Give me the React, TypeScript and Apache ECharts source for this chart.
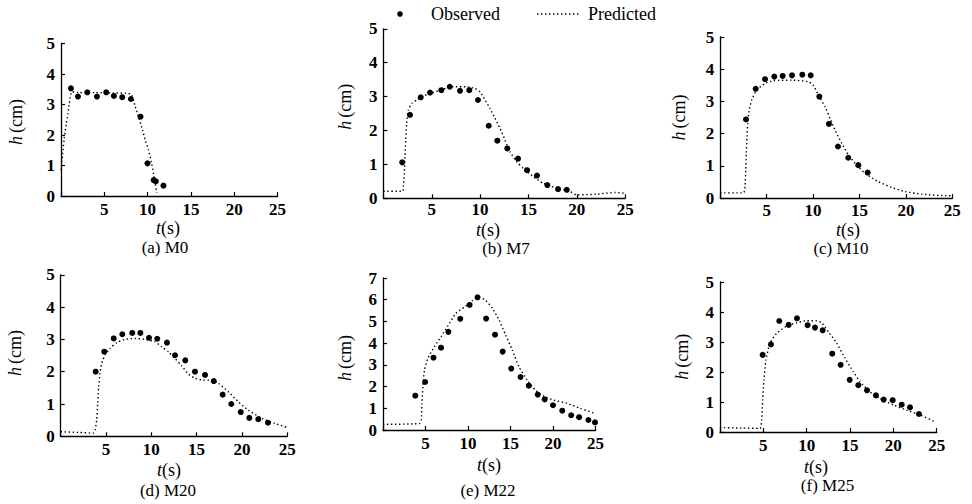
import React, { useEffect, useRef } from "react";
import * as echarts from "echarts";

// ---------- data (t in s, h in cm) ----------
const m0Observed = [[1.15,3.53],[1.96,3.26],[3.04,3.40],[4.15,3.26],[5.22,3.40],[6.11,3.28],[7.07,3.24],[8.07,3.18],[9.18,2.6],[9.99,1.07],[10.7,0.52],[10.95,0.48],[11.83,0.34]];
const m0Predicted = [[0,0.85],[0.19,1.4],[0.38,1.89],[0.61,2.38],[0.81,2.71],[0.96,3.04],[1.27,3.42],[2,3.39],[4,3.39],[6,3.38],[7.5,3.37],[8.1,3.33],[8.57,2.93],[8.95,2.6],[9.42,2.16],[9.72,1.84],[10.1,1.51],[10.5,1.02],[10.8,0.52],[11.05,0.1]];

const m7Observed = [[1.95,1.06],[2.75,2.46],[3.86,2.98],[4.82,3.12],[5.99,3.19],[6.86,3.29],[7.92,3.17],[8.88,3.19],[9.78,2.9],[10.89,2.14],[11.78,1.7],[12.81,1.47],[13.92,1.17],[14.85,0.83],[15.88,0.67],[16.95,0.39],[18.06,0.27],[18.96,0.25]];
const m7Predicted = [[0,0.21],[2.0,0.21],[2.06,0.34],[2.16,0.74],[2.23,1.23],[2.31,1.72],[2.41,2.21],[2.58,2.6],[2.93,2.8],[3.44,2.9],[4.13,3.02],[5.16,3.12],[6.19,3.22],[7.23,3.29],[8.61,3.29],[9.47,3.24],[9.99,3.14],[10.51,2.9],[11.02,2.65],[11.54,2.36],[12.06,2.06],[12.57,1.72],[13.09,1.37],[13.78,1.08],[14.47,0.88],[15.5,0.64],[16.54,0.44],[17.92,0.3],[19.3,0.2],[20,0.1],[22,0.12],[24,0.17],[25,0.15]];

const m10Observed = [[2.77,2.44],[3.81,3.39],[4.82,3.69],[5.82,3.77],[6.72,3.79],[7.73,3.81],[8.84,3.83],[9.74,3.81],[10.67,3.15],[11.71,2.30],[12.68,1.6],[13.79,1.25],[14.87,1.02],[15.88,0.79]];
const m10Predicted = [[0,0.16],[2.5,0.16],[2.66,0.35],[2.74,0.87],[2.8,1.39],[2.88,1.9],[2.95,2.32],[3.09,2.68],[3.38,3.04],[3.92,3.35],[4.82,3.56],[5.71,3.64],[7.73,3.66],[9.48,3.61],[10.0,3.51],[10.56,3.2],[11.28,2.84],[11.82,2.47],[12.36,2.11],[13.08,1.70],[13.79,1.34],[14.52,1.08],[15.59,0.77],[17.0,0.51],[18.47,0.33],[19.9,0.2],[21.7,0.12],[24.6,0.07],[25,0.07]];

const m20Observed = [[3.86,2.0],[4.81,2.62],[5.85,3.03],[6.8,3.16],[7.9,3.2],[8.79,3.2],[9.75,3.05],[10.66,3.02],[11.73,2.9],[12.62,2.51],[13.75,2.35],[14.82,2.0],[15.93,1.9],[16.89,1.71],[17.88,1.29],[18.83,1.0],[19.87,0.75],[20.82,0.57],[21.81,0.53],[22.88,0.42]];
const m20Predicted = [[0,0.14],[2,0.12],[3.6,0.1],[3.8,0.2],[3.97,0.5],[4.08,1.02],[4.19,1.53],[4.34,1.95],[4.53,2.26],[4.89,2.52],[5.44,2.72],[6.18,2.9],[7.1,3.0],[8.2,3.03],[9.3,3.0],[10.4,2.93],[11.15,2.77],[11.88,2.62],[12.62,2.41],[13.36,2.18],[14.08,1.93],[14.82,1.8],[15.74,1.74],[16.67,1.74],[17.4,1.64],[18.5,1.38],[19.6,1.07],[20.7,0.81],[22.2,0.56],[23.65,0.4],[24.9,0.28]];

const m22Observed = [[3.8,1.58],[4.96,2.21],[5.94,3.33],[6.83,3.79],[7.69,4.52],[9.09,5.12],[10.19,5.76],[11.12,6.11],[12.13,5.13],[13.18,4.39],[14.08,3.61],[15.09,2.83],[16.18,2.44],[17.15,2.04],[18.2,1.63],[19.02,1.41],[20.0,1.14],[21.09,0.89],[22.14,0.68],[23.07,0.59],[24.16,0.46],[24.94,0.35]];
const m22Predicted = [[0,0.26],[4.3,0.3],[4.5,0.46],[4.58,1.23],[4.7,1.99],[4.88,2.76],[5.28,3.3],[6.05,3.84],[6.83,4.3],[7.62,4.79],[8.59,5.38],[9.56,5.65],[10.53,5.96],[11.3,6.11],[12.09,5.96],[12.87,5.61],[13.64,5.07],[14.42,4.38],[15.2,3.69],[15.98,2.92],[16.96,2.3],[17.93,1.84],[18.9,1.56],[20.07,1.38],[21.6,1.23],[23.2,1.0],[25,0.75]];

const m25Observed = [[4.92,2.57],[5.88,2.92],[6.84,3.7],[7.92,3.57],[8.88,3.79],[10.11,3.56],[10.96,3.48],[11.84,3.39],[12.95,2.61],[13.92,2.24],[14.96,1.74],[15.96,1.56],[16.96,1.39],[17.99,1.22],[18.88,1.08],[19.92,1.06],[20.96,0.91],[21.92,0.82],[22.95,0.6]];
const m25Predicted = [[0,0.15],[2.5,0.13],[4.6,0.12],[4.81,0.4],[4.92,1.07],[5.07,1.73],[5.3,2.4],[5.77,2.96],[6.54,3.29],[7.69,3.53],[8.84,3.64],[10.0,3.71],[11.15,3.71],[11.73,3.64],[12.5,3.34],[13.46,2.96],[14.42,2.46],[15.38,2.01],[16.15,1.68],[17.3,1.34],[18.45,1.12],[19.99,0.9],[21.5,0.73],[23.07,0.57],[24.8,0.34]];

const panelTitles = ["(a) M0", "(b) M7", "(c) M10", "(d) M20", "(e) M22", "(f) M25"];
const legendNames = ["Observed", "Predicted"];
const yMaxes = [5, 5, 5, 5, 7, 5];
const xMax = 25;
const observedSets = [m0Observed, m7Observed, m10Observed, m20Observed, m22Observed, m25Observed];
const predictedSets = [m0Predicted, m7Predicted, m10Predicted, m20Predicted, m22Predicted, m25Predicted];

// ---------- layout ----------
const FONT = '"Liberation Serif", "Times New Roman", serif';
const grids = [
  { left: 61, top: 43.5, width: 216.5, height: 152.5 },
  { left: 383.4, top: 28.8, width: 241.8, height: 169.5 },
  { left: 720.3, top: 37, width: 232, height: 161 },
  { left: 60.7, top: 274.8, width: 226.5, height: 161.5 },
  { left: 383, top: 278, width: 212.5, height: 152 },
  { left: 720, top: 282, width: 216.7, height: 150 },
];
const xLabelMargins = [5, 3, 4, 5, 5, 5];
const xNamePos = [[168, 227.5], [488, 229.5], [848, 229.5], [169, 470], [489, 464.5], [816, 466.5]];
const yNamePos = [[16, 122], [345, 106.7], [679, 117.5], [15, 353], [345, 358], [681.7, 356.7]];
const titlePos = [[165, 247], [506, 248], [841, 248], [168, 490.5], [488, 490], [827.5, 485.5]];
const DOT = [1.4, 2.6];

export default function App() {
  const ref = useRef<HTMLDivElement>(null);
  useEffect(() => {
    if (!ref.current) return;
    const chart = echarts.init(ref.current, undefined, { renderer: "svg" });
    const axisLine = { show: true, lineStyle: { color: "#000", width: 1.3 } };
    const axisTick = { show: true, inside: true, length: 4, lineStyle: { color: "#000", width: 1.2 } };
    const labelBase = { color: "#000", fontFamily: FONT, fontWeight: "bold" as const, fontSize: 17 };

    const graphic: any[] = [];
    // legend
    graphic.push({ type: "circle", shape: { cx: 400, cy: 14, r: 2.8 }, style: { fill: "#000" } });
    graphic.push({
      type: "text", x: 431, y: 14,
      style: { text: legendNames[0], align: "left", verticalAlign: "middle", fill: "#000", font: `18px ${FONT}` },
    });
    graphic.push({
      type: "line", shape: { x1: 537, y1: 14, x2: 579, y2: 14 },
      style: { stroke: "#000", lineWidth: 1.4, lineDash: DOT },
    });
    graphic.push({
      type: "text", x: 588, y: 14,
      style: { text: legendNames[1], align: "left", verticalAlign: "middle", fill: "#000", font: `18px ${FONT}` },
    });

    grids.forEach((_, i) => {
      graphic.push({
        type: "text",
        x: xNamePos[i][0],
        y: xNamePos[i][1],
        style: {
          text: "{i|t}{n|(s)}",
          align: "center",
          verticalAlign: "middle",
          fill: "#000",
          font: `18px ${FONT}`,
          rich: {
            i: { fontStyle: "italic", fontSize: 18, fontFamily: FONT, fill: "#000" },
            n: { fontSize: 18, fontFamily: FONT, fill: "#000" },
          },
        },
      });
      graphic.push({
        type: "text",
        x: yNamePos[i][0],
        y: yNamePos[i][1],
        rotation: Math.PI / 2,
        style: {
          text: "{i|h}{n|(cm)}",
          align: "center",
          verticalAlign: "middle",
          fill: "#000",
          font: `18px ${FONT}`,
          rich: {
            i: { fontStyle: "italic", fontSize: 18, fontFamily: FONT, fill: "#000", padding: [0, 3, 0, 0] },
            n: { fontSize: 18, fontFamily: FONT, fill: "#000" },
          },
        },
      });
      graphic.push({
        type: "text",
        x: titlePos[i][0],
        y: titlePos[i][1],
        style: {
          text: panelTitles[i],
          align: "center",
          verticalAlign: "middle",
          fill: "#000",
          font: `17px ${FONT}`,
        },
      });
    });

    const series: any[] = [];
    grids.forEach((_, i) => {
      series.push({
        name: legendNames[0],
        type: "scatter",
        xAxisIndex: i,
        yAxisIndex: i,
        data: observedSets[i],
        symbol: "circle",
        symbolSize: 6,
        itemStyle: { color: "#000", opacity: 1 },
        z: 3,
      });
      series.push({
        name: legendNames[1],
        type: "line",
        xAxisIndex: i,
        yAxisIndex: i,
        data: predictedSets[i],
        showSymbol: false,
        symbol: "none",
        smooth: 0.2,
        lineStyle: { color: "#000", width: 1.4, type: DOT },
        itemStyle: { color: "#000" },
        z: 2,
      });
    });

    chart.setOption({
      animation: false,
      backgroundColor: "#fff",
      grid: grids.map((g) => ({ ...g, containLabel: false })),
      xAxis: grids.map((_, i) => ({
        type: "value",
        gridIndex: i,
        min: 0,
        max: xMax,
        interval: 5,
        axisLine,
        axisTick,
        splitLine: { show: false },
        axisLabel: { ...labelBase, margin: xLabelMargins[i], formatter: (v: number) => (v === 0 ? "" : String(v)) },
      })),
      yAxis: grids.map((_, i) => ({
        type: "value",
        gridIndex: i,
        min: 0,
        max: yMaxes[i],
        interval: 1,
        axisLine,
        axisTick,
        splitLine: { show: false },
        axisLabel: { ...labelBase, margin: 6 },
      })),
      graphic,
      series,
    });
    return () => chart.dispose();
  }, []);
  return (
    <div
      ref={ref}
      style={{ position: "fixed", left: 0, top: 0, width: 972, height: 504, background: "#fff" }}
    />
  );
}
